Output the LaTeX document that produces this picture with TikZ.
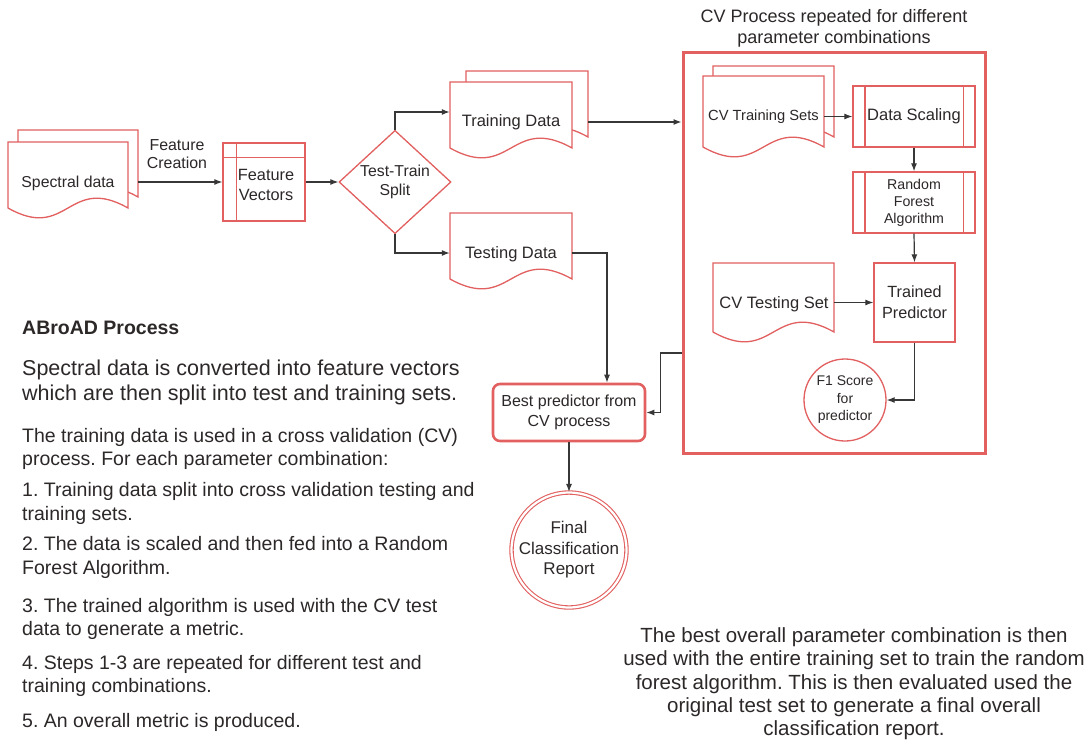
\documentclass[tikz,border=0pt]{standalone}
\usepackage{fontspec}
\setmainfont{Liberation Sans}
\usetikzlibrary{arrows.meta,shapes.geometric,calc}
\definecolor{redl}{RGB}{226,96,96}
\definecolor{txt}{RGB}{45,40,40}
\definecolor{conn}{RGB}{55,55,55}
\newcommand\fsz[2]{\fontsize{#1}{#2}\selectfont}
\newcommand\docshape[4]{%
  \pgfmathsetmacro\dmx{(#1+#3)/2}%
  \draw[shp] (#1,#2) -- (#3,#2) -- (#3,#4) .. controls (\dmx,#4-34) and (\dmx,#4+34) .. (#1,#4) -- cycle;}
\frenchspacing
\begin{document}
\begin{tikzpicture}[x=1pt,y=-1pt,
  shp/.style={draw=redl, line width=1.3pt, fill=white},
  arr/.style={draw=conn, line width=1.2pt, -{Latex[length=8pt,width=6pt]}},
  lbl/.style={text=txt, align=center, inner sep=0pt},
  ghost/.style={inner sep=0pt, minimum height=2pt},
  ln/.style={text=txt, anchor=west, inner sep=0pt, text depth=0pt},
  lnc/.style={text=txt, anchor=center, inner sep=0pt, text depth=0pt},
  para/.style={ln, font=\fsz{19.5}{23}, text height=14pt},
  bigp/.style={ln, font=\fsz{21.5}{24}, text height=15.5pt},
  ttl/.style={ln, font=\bfseries\fsz{19.5}{23}, text height=14pt},
  rpara/.style={lnc, font=\fsz{20.5}{23.5}, text height=14.8pt}
]
\useasboundingbox (0,0) rectangle (1089,742);
\fill[white] (0,0) rectangle (1089,742);

% CV container
\node[draw=redl, line width=3pt, minimum width=302, minimum height=401, inner sep=0pt] (cv) at (834,252.5) {};
\node[lbl, font=\fsz{18}{21}] (cvtitle) at (834,28) {CV Process repeated for different\\parameter combinations};

% Spectral data
\docshape{18}{130}{138}{197}
\docshape{8}{142}{128}{208}
\node[ghost, minimum width=130] (spec) at (73,182) {};
\node[lbl, font=\fsz{15.8}{19}] (specl) at (68,183) {Spectral data};
\node[lbl, font=\fsz{15.9}{18}] (fc) at (177,154) {Feature\\Creation};

% Feature vectors
\node[shp, minimum width=82, minimum height=78, inner sep=0pt] (fv) at (264,182) {};
\draw[redl, line width=1.3pt] ([xshift=14]fv.north west) -- ([xshift=14]fv.south west);
\draw[redl, line width=1.3pt] ([yshift=-15]fv.north west) -- ([yshift=-15]fv.north east);
\node[lbl, font=\fsz{16.3}{20}] (fvl) at (266,185) {Feature\\Vectors};

% Split diamond
\node[shp, diamond, minimum width=112, minimum height=98, inner sep=0pt, text=txt, align=center, font=\fsz{15.8}{19}] (split) at (395,182) {Test-Train\\Split};

% Training data
\docshape{466}{71}{588}{137}
\docshape{450}{82}{572}{148}
\node[ghost, minimum width=122] (trn) at (511,112) {};
\node[lbl, font=\fsz{16.5}{20}] (trnl) at (511,122) {Training Data};
\coordinate (trnR) at ([shift={(16,10)}]trn.east);

% Testing data
\docshape{450}{213}{572}{279}
\node[ghost, minimum width=122] (tst) at (511,253) {};
\node[lbl, font=\fsz{16.5}{20}] (tstl) at (511,254) {Testing Data};

% Best predictor and final
\node[draw=redl, line width=2.6pt, fill=white, rounded corners=7pt, minimum width=152, minimum height=57, inner sep=0pt, text=txt, align=center, font=\fsz{16}{20}] (best) at (569,412.5) {Best predictor from\\CV process};
\node[draw=redl, line width=1.1pt, double=white, double distance=2.2pt, circle, minimum size=114, inner sep=0pt, text=txt, align=center, font=\fsz{17}{20.5}] (final) at (569,550) {Final\\Classification\\Report};

% CV inner
\docshape{713}{66}{834}{137}
\docshape{703}{76}{824}{147}
\node[ghost, minimum width=121] (cvtr) at (763.5,116.5) {};
\node[lbl, font=\fsz{14.7}{18}] (cvtrl) at (763.5,117) {CV Training Sets};

\node[shp, minimum width=122, minimum height=61, inner sep=0pt, text=txt, font=\fsz{16.5}{19}] (ds) at (914,116.5) {Data Scaling};
\draw[redl, line width=1.3pt] ([xshift=12.5]ds.north west) -- ([xshift=12.5]ds.south west);
\draw[redl, line width=1.3pt] ([xshift=-12.5]ds.north east) -- ([xshift=-12.5]ds.south east);

\node[shp, minimum width=122, minimum height=61, inner sep=0pt, text=txt, align=center, font=\fsz{14.2}{17}] (rf) at (914,202.5) {Random\\Forest\\Algorithm};
\draw[redl, line width=1.3pt] ([xshift=12.5]rf.north west) -- ([xshift=12.5]rf.south west);
\draw[redl, line width=1.3pt] ([xshift=-12.5]rf.north east) -- ([xshift=-12.5]rf.south east);

\node[shp, minimum width=81, minimum height=79, inner sep=0pt, text=txt, align=center, font=\fsz{16.2}{21}] (tp) at (914.5,302.5) {Trained\\Predictor};

\docshape{713}{263}{834}{332}
\node[ghost, minimum width=121] (cvts) at (773.5,302.5) {};
\node[lbl, font=\fsz{16.5}{20}] (cvtsl) at (774,304) {CV Testing Set};

\node[shp, circle, minimum size=82, inner sep=0pt, text=txt, align=center, font=\fsz{14}{17.5}] (f1) at (845,400) {F1 Score\\for\\predictor};

% connectors
\draw[arr] (spec.east) -- (fv.west);
\draw[arr] (fv.east) -- (split.west);
\draw[arr] (split.north) |- (trn.west);
\draw[arr] (split.south) |- (tst.west);
\draw[arr] (trnR) -- (trnR -| cv.west);
\draw[arr] (tst.east) -| ([xshift=38]best.north);
\coordinate (cvout) at ([yshift=-100.5]cv.west);
\draw[arr] (cvout) -- ++(-21,0) |- (best.east);
\draw[arr] (best.south) -- (final.north);
\draw[arr] (cvtr.east) -- (ds.west);
\draw[arr] (ds.south) -- (rf.north);
\draw[arr] (rf.south) -- (tp.north);
\draw[arr] (cvts.east) -- (tp.west);
\draw[arr] (tp.south) |- (f1.east);

% left text
\node[ttl] (t0) at (22,327) {ABroAD Process};
\node[bigp] (t1) at (22,368) {Spectral data is converted into feature vectors};
\node[bigp] (t2) at (22,393) {which are then split into test and training sets.};
\node[para] (t3) at (22,435) {The training data is used in a cross validation (CV)};
\node[para] (t4) at (22,458) {process. For each parameter combination:};
\node[para] (t5) at (22,489) {1. Training data split into cross validation testing and};
\node[para] (t6) at (22,513) {training sets.};
\node[para] (t7) at (22,543) {2. The data is scaled and then fed into a Random};
\node[para] (t8) at (22,567) {Forest Algorithm.};
\node[para] (t9) at (22,605) {3. The trained algorithm is used with the CV test};
\node[para] (t10) at (22,628) {data to generate a metric.};
\node[para] (t11) at (22,662) {4. Steps 1-3 are repeated for different test and};
\node[para] (t12) at (22,685) {training combinations.};
\node[para] (t13) at (22,720) {5. An overall metric is produced.};

% right text
\node[rpara] (r1) at (854,635) {The best overall parameter combination is then};
\node[rpara] (r2) at (854,658) {used with the entire training set to train the random};
\node[rpara] (r3) at (854,682) {forest algorithm. This is then evaluated used the};
\node[rpara] (r4) at (854,705) {original test set to generate a final overall};
\node[rpara] (r5) at (854,728) {classification report.};
\end{tikzpicture}
\end{document}
